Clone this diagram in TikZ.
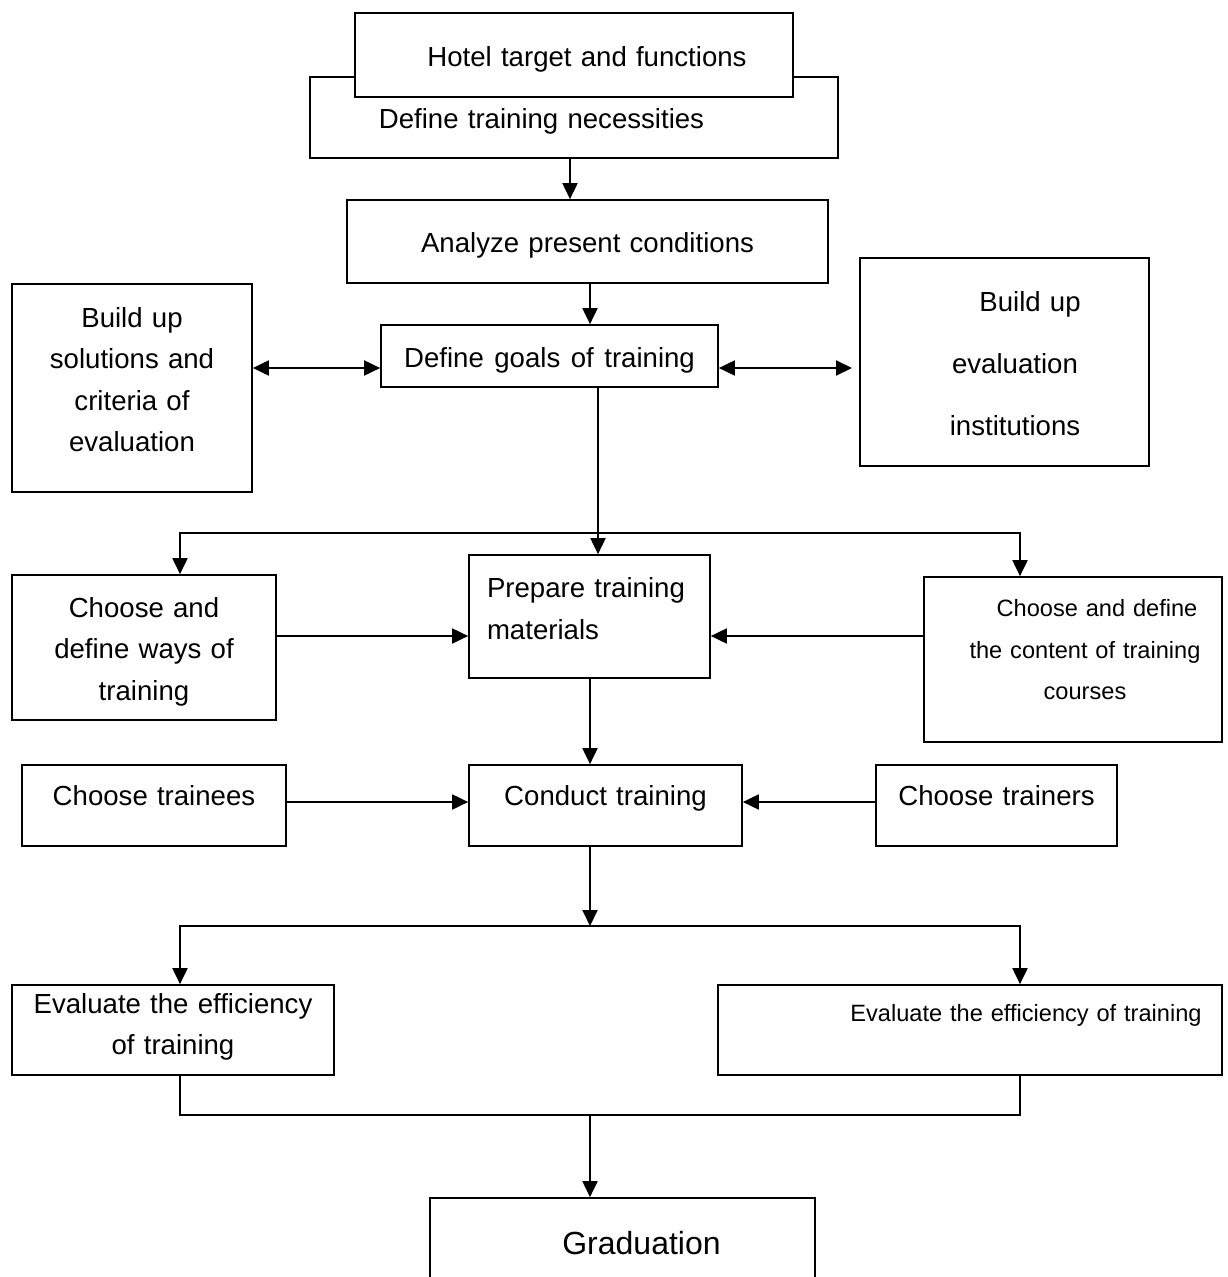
\documentclass[tikz,border=0pt]{standalone}
\usepackage{fontspec}
\setmainfont{Liberation Sans}
\usetikzlibrary{arrows.meta}
\begin{document}
\begin{tikzpicture}[x=1pt,y=-1pt,
  box/.style={draw, line width=1.7pt, inner xsep=0pt, inner ysep=0pt, align=center, fill=white, font=\fontsize{27.6}{41.5}\selectfont},
  small/.style={font=\fontsize{23.6}{41.5}\selectfont},
  low/.style={text height=28pt, text depth=5.5pt},
  mid/.style={text height=20pt, text depth=20pt},
  arr/.style={line width=1.9pt, -{Triangle[length=16pt,width=15pt]}},
  arr2/.style={line width=1.9pt, {Triangle[length=16pt,width=15pt]}-{Triangle[length=16pt,width=15pt]}},
  ln/.style={line width=1.9pt}]
\useasboundingbox (0,0) rectangle (1228,1277);
\clip (0,0) rectangle (1228,1277);

% boxes
\node[box, low, text width=528pt, minimum height=81pt] (b2) at (574,117.5) {Define training necessities\hspace*{65pt}\mbox{}};
\node[box, low, text width=438pt, minimum height=84pt] (b1) at (574,55) {\hspace*{26pt}Hotel target and functions};
\node[box, low, text width=481pt, minimum height=83pt] (an) at (587.5,241.5) {Analyze present conditions};
\node[box, low, text width=337pt, minimum height=62pt] (g) at (549.5,356) {Define\hspace{10.5pt}goals\hspace{10.5pt}of\hspace{10.5pt}training};
\node[box, text width=240pt, minimum height=208pt] (bl) at (132,388) {Build up\\solutions and\\criteria of\\evaluation\rule[-17pt]{0pt}{0pt}};
\node[box, text width=289pt, minimum height=208pt, font=\fontsize{27.6}{62}\selectfont] (bi) at (1004.5,362) {\hspace*{51pt}\rule{0pt}{24pt}Build up\\\hspace*{21pt}evaluation\\\hspace*{21pt}institutions};
\node[box, text width=264pt, minimum height=145pt] (w) at (144,647.5) {\rule{0pt}{28.5pt}Choose and\\define ways of\\training};
\node[box, text width=205pt, inner xsep=18pt, minimum height=123pt, align=left] (p) at (589.5,616.5) {Prepare training\\materials\rule[-16pt]{0pt}{0pt}};
\node[box, small, text width=298pt, minimum height=165pt] (c) at (1073,659.5) {\hspace*{48pt}Choose and define\\\hspace*{24pt}the content of training\\\hspace*{24pt}courses\rule[-20pt]{0pt}{0pt}};
\node[box, mid, text width=264pt, minimum height=81pt] (tr) at (154,805.5) {Choose trainees};
\node[box, mid, text width=273pt, minimum height=81pt] (cd) at (605.5,805.5) {Conduct training};
\node[box, mid, text width=241pt, minimum height=81pt] (ts) at (996.5,805.5) {Choose trainers};
\node[box, text width=322pt, minimum height=90pt] (el) at (173,1030) {Evaluate the efficiency\\of training\rule[-12pt]{0pt}{0pt}};
\node[box, small, text width=504pt, minimum height=90pt, text height=17pt, text depth=34pt] (er) at (970,1030) {\hspace*{112pt}Evaluate the efficiency of training};
\node[box, text width=385pt, minimum height=90pt, font=\fontsize{32}{40}\selectfont] (gr) at (622.5,1243) {\hspace*{38pt}Graduation};

% junctions
\coordinate (j1) at (598,533);
\coordinate (j2) at (590,926);
\coordinate (j3) at (180,1115);
\coordinate (j4) at (1020,1115);
\coordinate (j5) at (590,1115);
\coordinate (bie) at (852,368);

% connectors
\draw[arr] (b2.south -| 570,0) -- (an.north -| 570,0);
\draw[arr] (an.south -| 590,0) -- (g.north -| 590,0);
\draw[arr2] (bl.east |- 0,368) -- (g.west |- 0,368);
\draw[arr2] (g.east |- 0,368) -- (bie);
\draw[arr] (g.south -| 598,0) -- (p.north -| 598,0);
\draw[arr] (j1) -| (w.north -| 180,0);
\draw[arr] (j1) -| (c.north -| 1020,0);
\draw[arr] (w.east |- 0,636) -- (p.west |- 0,636);
\draw[arr] (c.west |- 0,636) -- (p.east |- 0,636);
\draw[arr] (p.south -| 590,0) -- (cd.north -| 590,0);
\draw[arr] (tr.east |- 0,802) -- (cd.west |- 0,802);
\draw[arr] (ts.west |- 0,802) -- (cd.east |- 0,802);
\draw[arr] (cd.south -| j2) -- (j2);
\draw[arr] (j2) -| (el.north -| 180,0);
\draw[arr] (j2) -| (er.north -| 1020,0);
\draw[ln] (el.south -| j3) -- (j3) -- (j4) -- (er.south -| j4);
\draw[arr] (j5) -- (gr.north -| j5);
\end{tikzpicture}
\end{document}
